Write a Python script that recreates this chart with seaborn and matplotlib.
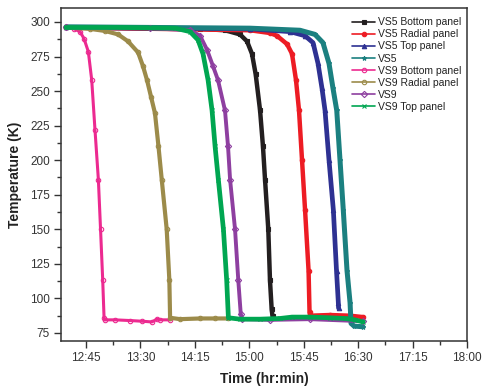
import numpy as np
import pandas as pd
import matplotlib
matplotlib.use("Agg")
import matplotlib.pyplot as plt
from matplotlib.ticker import FixedLocator, MultipleLocator
import seaborn as sns

# ---- data: time in minutes since midnight, temperature in K ----
vs5_bottom_t = [748.5, 859.3, 879.9, 892.3, 898.1, 902.2, 905.3, 908.9, 911.3, 913.0, 915.7, 917.1, 918.5, 919.2]
vs5_bottom_T = [296, 295, 294, 291, 286, 277, 262, 236, 210, 186, 150, 113, 92, 87]

vs5_radial_t = [748.5, 900.6, 917.1, 922.9, 931.2, 935.3, 938.6, 941.1, 943.6, 946.1, 949.0, 949.8, 950.2, 966.7, 983.3, 994.0]
vs5_radial_T = [296, 294, 292, 290, 284, 277, 258, 236, 200, 164, 120, 90, 87.5, 88, 87.5, 86.5]

vs5_top_t = [748.5, 900.6, 933.7, 946.1, 952.7, 956.8, 960.1, 962.6, 965.9, 969.5, 972.1, 973.6, 973.8]
vs5_top_T = [296, 295, 293, 290, 285, 270, 252, 236, 200, 164, 120, 97, 93]

vs5_t = [748.5, 900.6, 941.9, 954.3, 960.9, 965.9, 969.2, 972.3, 975.0, 977.7, 980.8, 983.3, 984.1, 986.6, 994.0]
vs5_T = [296.5, 295.5, 294, 291, 285, 270, 252, 236, 200, 164, 120, 97, 82, 80, 79.5]

vs9_bottom_t = [748.5, 755.1, 760.0, 763.3, 766.9, 769.7, 772.4, 775.2, 777.0, 778.8, 779.9, 780.7, 789.0, 801.4, 811.3, 819.6, 823.5, 826.2, 834.5]
vs9_bottom_T = [296, 295, 293, 288, 278.5, 258, 222, 186, 150, 113, 86, 84.5, 84.5, 84, 83.5, 83, 85, 84.5, 84.5]

vs9_radial_t = [748.5, 768.3, 780.7, 791.5, 799.7, 808.0, 812.1, 815.4, 818.7, 822.0, 824.9, 827.6, 831.7, 833.9, 834.5, 842.7, 859.3, 871.7, 882.4]
vs9_radial_T = [296, 295, 293.5, 291, 286, 278, 268, 258, 246, 234, 210, 186, 150, 113, 86, 85, 85.5, 85.5, 85.5]

vs9_t = [748.5, 817.9, 851.0, 859.3, 865.0, 870.0, 874.1, 879.9, 882.4, 884.1, 888.2, 890.9, 892.9, 894.0, 917.1, 950.2, 994.0]
vs9_T = [296, 295.5, 294, 290, 280, 268, 258, 236, 210, 186, 150, 113, 89, 85, 84.5, 85, 83.5]

vs9_top_t = [748.5, 793.1, 838.6, 851.0, 857.6, 861.7, 865.9, 869.2, 871.7, 874.4, 878.6, 881.3, 882.7, 892.3, 908.9, 925.4, 935.3, 950.2, 966.7, 979.1, 987.4, 994.0]
vs9_top_T = [296, 296, 295.5, 293, 287, 277, 258, 236, 210, 186, 150, 113, 86, 85, 85, 85.5, 86.5, 86.5, 86, 85.5, 84.5, 83]

labels = ["VS5 Bottom panel", "VS5 Radial panel", "VS5 Top panel", "VS5",
          "VS9 Bottom panel", "VS9 Radial panel", "VS9", "VS9 Top panel"]
xtick_labels = ["12:45", "13:30", "14:15", "15:00", "15:45", "16:30", "17:15", "18:00"]
ytick_values = [75, 100, 125, 150, 175, 200, 225, 250, 275, 300]

series = [
    (vs5_bottom_t, vs5_bottom_T),
    (vs5_radial_t, vs5_radial_T),
    (vs5_top_t, vs5_top_T),
    (vs5_t, vs5_T),
    (vs9_bottom_t, vs9_bottom_T),
    (vs9_radial_t, vs9_radial_T),
    (vs9_t, vs9_T),
    (vs9_top_t, vs9_top_T),
]
colors = ["#231f20", "#ed1c24", "#2e3192", "#1b8080",
          "#ec2a90", "#9c8b4a", "#8e3fa0", "#00a651"]
markers = ["s", "o", "^", "*", "o", "o", "D", "x"]
filled = [True, True, True, True, False, False, False, True]
widths = [3.2, 3.2, 3.4, 3.6, 2.2, 3.0, 2.8, 3.4]

sns.set_style("ticks")
plt.rcParams["font.family"] = ["Liberation Sans", "DejaVu Sans"]

fig = plt.figure(figsize=(4.82, 3.92), dpi=100)
ax = fig.add_axes([61 / 482, 1 - 341 / 392, (467 - 61) / 482, (341 - 8) / 392])

for (t, T), lab, c, m, f, w in zip(series, labels, colors, markers, filled, widths):
    df = pd.DataFrame({"t": t, "T": T})
    kw = dict(markerfacecolor=c) if f else dict(markerfacecolor="none")
    sns.lineplot(data=df, x="t", y="T", ax=ax, color=c, marker=m, markersize=3.2,
                 markeredgecolor=c, markeredgewidth=0.8, linewidth=w,
                 solid_capstyle="round", solid_joinstyle="round",
                 sort=False, estimator=None, label=lab, **kw)

xt = [765 + 45 * i for i in range(len(xtick_labels))]
ax.xaxis.set_major_locator(FixedLocator(xt))
ax.set_xticklabels(xtick_labels)
ax.xaxis.set_minor_locator(FixedLocator([v + 22.5 for v in xt[:-1]]))
ax.set_xlim(744.3, 1080)

ax.yaxis.set_major_locator(FixedLocator(ytick_values))
ax.yaxis.set_minor_locator(MultipleLocator(12.5))
ax.set_ylim(69.2, 310.1)

ax.tick_params(which="major", direction="out", length=5, width=1, color="#333333",
               labelsize=8.5, labelcolor="#333333", pad=3)
ax.tick_params(which="minor", direction="out", length=3, width=1, color="#333333")
for s in ax.spines.values():
    s.set_visible(True)
    s.set_linewidth(1.1)
    s.set_color("#333333")

ax.set_xlabel("Time (hr:min)", fontsize=10, fontweight="bold", color="#222222", labelpad=6)
ax.set_ylabel("Temperature (K)", fontsize=10, fontweight="bold", color="#222222", labelpad=6)

leg = ax.legend(loc="upper left", bbox_to_anchor=(0.717, 0.972), frameon=False,
                fontsize=7.5, handlelength=2.2, handletextpad=0.3, labelspacing=0.2,
                borderpad=0, borderaxespad=0)
for line in leg.get_lines():
    line.set_linewidth(1.2)
for txt in leg.get_texts():
    txt.set_color("#222222")

fig.savefig("out.png", dpi=100)
